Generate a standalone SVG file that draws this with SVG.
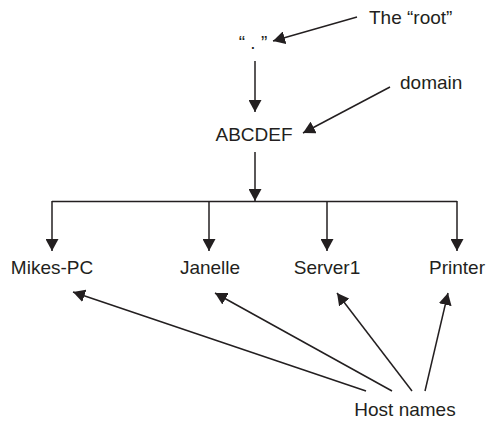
<svg xmlns="http://www.w3.org/2000/svg" width="487" height="421" viewBox="0 0 487 421">
  <style>
    .lbl { font-family: "Liberation Sans", Arial, sans-serif; font-size: 19px; fill: #231f20; }
    .mid { text-anchor: middle; }
    .conn { stroke: #231f20; stroke-width: 1.5; fill: none; }
  </style>
  <defs>
    <marker id="ah" viewBox="0 0 12 13" refX="12" refY="6.5" markerWidth="12" markerHeight="13" markerUnits="userSpaceOnUse" orient="auto">
      <path d="M0,0 L12,6.5 L0,13 z" fill="#231f20"/>
    </marker>
  </defs>
  <rect width="487" height="421" fill="#ffffff"/>

  <g id="connectors">
    <line class="conn" x1="255" y1="61" x2="255" y2="112" marker-end="url(#ah)"/>
    <line class="conn" x1="255" y1="152" x2="255" y2="201" marker-end="url(#ah)"/>
    <line class="conn" x1="52" y1="201.5" x2="457" y2="201.5"/>
    <line class="conn" x1="52" y1="201" x2="52" y2="251" marker-end="url(#ah)"/>
    <line class="conn" x1="209" y1="201" x2="209" y2="251" marker-end="url(#ah)"/>
    <line class="conn" x1="327" y1="201" x2="327" y2="251" marker-end="url(#ah)"/>
    <line class="conn" x1="457" y1="201" x2="457" y2="251" marker-end="url(#ah)"/>
    <line class="conn" x1="357" y1="17" x2="273" y2="41" marker-end="url(#ah)"/>
    <line class="conn" x1="390" y1="87" x2="303" y2="133" marker-end="url(#ah)"/>
    <line class="conn" x1="366" y1="391" x2="73" y2="292" marker-end="url(#ah)"/>
    <line class="conn" x1="392" y1="391" x2="215" y2="293" marker-end="url(#ah)"/>
    <line class="conn" x1="412" y1="391" x2="337" y2="293" marker-end="url(#ah)"/>
    <line class="conn" x1="425" y1="391" x2="448" y2="293" marker-end="url(#ah)"/>
  </g>

  <g id="root"><text class="lbl mid" x="253" y="49">“ . ”</text></g>
  <g id="root-label"><text class="lbl" x="369" y="24">The “root”</text></g>
  <g id="domain-label"><text class="lbl" x="400" y="89">domain</text></g>
  <g id="abcdef"><text class="lbl mid" x="254" y="141">ABCDEF</text></g>
  <g id="mikes-pc"><text class="lbl mid" x="52" y="274">Mikes-PC</text></g>
  <g id="janelle"><text class="lbl mid" x="210" y="274">Janelle</text></g>
  <g id="server1"><text class="lbl mid" x="327" y="274">Server1</text></g>
  <g id="printer"><text class="lbl mid" x="457" y="274">Printer</text></g>
  <g id="host-names"><text class="lbl mid" x="405" y="416">Host names</text></g>
</svg>
